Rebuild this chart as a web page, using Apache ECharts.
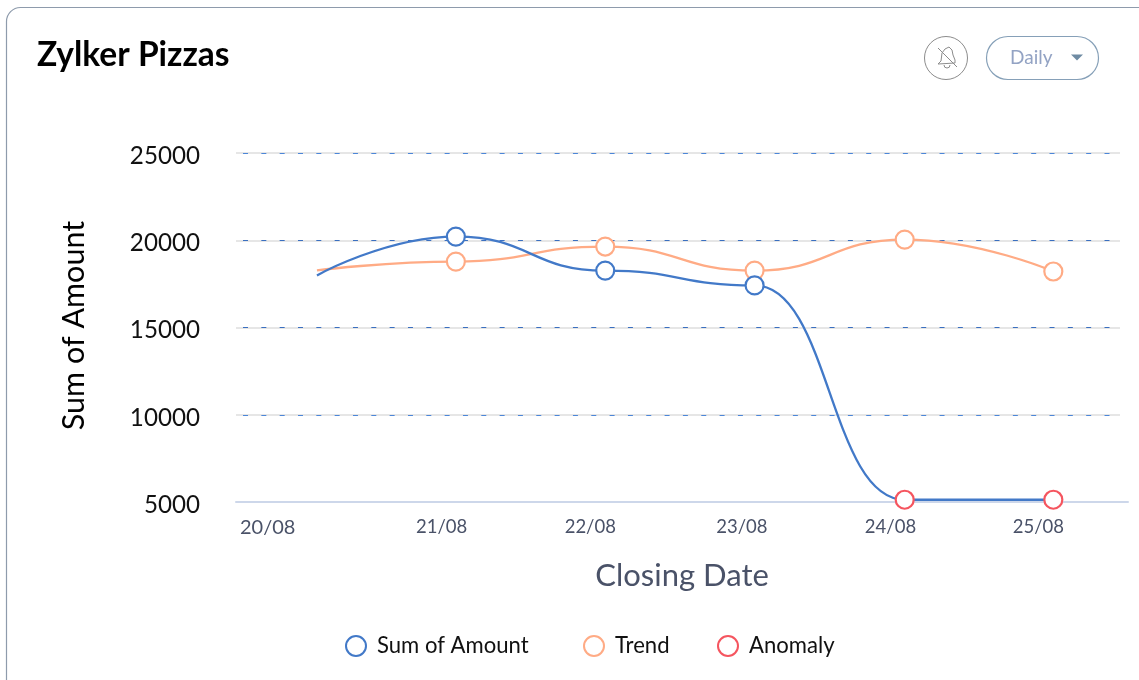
<!DOCTYPE html>
<html>
<head>
<meta charset="utf-8">
<style>html,body{margin:0;padding:0;background:#fff}#c{width:1139px;height:680px}</style>
<script src="https://cdn.jsdelivr.net/npm/echarts@6/dist/echarts.min.js"></script>
</head>
<body>
<div id="c"></div>
<script>
const titleText = 'Zylker Pizzas';
const intervalLabel = 'Daily';
const xAxisName = 'Closing Date';
const yAxisName = 'Sum of Amount';
const dayNumbers = [20.07, 21, 22, 23, 24.005, 25];
const sumOfAmount = [17980, 20210, 18260, 17410, 5130, 5130];
const trend = [18270, 18780, 19640, 18260, 20040, 18210];
const anomalyDays = [24.005, 25];
const anomalyValues = [5130, 5130];
const tickLabels = ['20/08', '21/08', '22/08', '23/08', '24/08', '25/08'];
const tickLabelDays = [19.74, 20.905, 21.9, 22.915, 23.91, 24.9];

const BLUE = '#4279C8', ORANGE = '#FFAB85', RED = '#F5555F', FONT = 'Lato, sans-serif';

function pairs(xs, ys) { return xs.map((x, i) => [x, ys[i]]); }
function pointSymbols(xs, ys, hidden) {
  return xs.map((x, i) => ({
    value: [x, ys[i]],
    symbol: (i === 0 || hidden.includes(x)) ? 'none' : 'circle'
  }));
}
function legendFor(name, color, left) {
  return {
    left, bottom: 23, padding: 0, itemWidth: 20, itemHeight: 20, icon: 'circle',
    textStyle: { fontFamily: FONT, fontSize: 22.1, color: '#111', padding: [0, 0, 0, 6] },
    data: [{ name, itemStyle: { color: '#fff', borderColor: color, borderWidth: 2 } }]
  };
}

const xMin = 19.528, xMax = 25.5;
const bell = { stroke: '#8C8C8C', lineWidth: 1, fill: 'none' };

const chart = echarts.init(document.getElementById('c'), null, { renderer: 'canvas' });
chart.setOption({
  animation: false,
  backgroundColor: '#fff',
  title: {
    text: titleText, left: 32, top: 33,
    textStyle: { fontFamily: FONT, fontSize: 33.5, fontWeight: 'bold', color: '#000' }
  },
  legend: [
    legendFor('Sum of Amount', BLUE, 345),
    legendFor('Trend', ORANGE, 583),
    legendFor('Anomaly', RED, 717)
  ],
  grid: [
    { left: 236, right: 11, top: 153, height: 349 },
    { left: 236, right: 19, top: 153, height: 349 },
    { left: 236, right: 19, top: 156, height: 349 }
  ],
  xAxis: [
    {
      type: 'value', gridIndex: 0, min: xMin, max: xMax,
      name: xAxisName, nameLocation: 'middle', nameGap: 58,
      nameTextStyle: { fontFamily: FONT, fontSize: 31, color: '#4A5268' },
      splitLine: { show: false },
      axisTick: { show: false },
      axisLine: { show: true, onZero: false, lineStyle: { color: '#CDD7EA', width: 2 } },
      axisLabel: {
        customValues: tickLabelDays,
        formatter: (v) => {
          const i = tickLabelDays.indexOf(v);
          return i === 0 ? '{first|' + tickLabels[i] + '}' : tickLabels[i];
        },
        rich: { first: { fontFamily: FONT, fontSize: 20, color: '#4A5268', padding: [0, 0, 2, 0] } },
        fontFamily: FONT, fontSize: 18.5, color: '#4A5268', margin: 16
      }
    },
    { type: 'value', gridIndex: 1, min: 0, max: 1, show: false },
    { type: 'value', gridIndex: 2, min: 0, max: 1, show: false }
  ],
  yAxis: [
    {
      type: 'value', gridIndex: 0, min: 5000, max: 25000, interval: 5000,
      name: yAxisName, nameLocation: 'middle', nameGap: 146, nameRotate: 90,
      nameTextStyle: { fontFamily: FONT, fontSize: 30.5, color: '#000', padding: [0, 0, 0, 4] },
      axisLine: { show: false }, axisTick: { show: false }, axisLabel: { show: false },
      splitLine: { show: false }
    },
    {
      type: 'value', gridIndex: 1, min: 5000, max: 25000, interval: 5000,
      axisLine: { show: false }, axisTick: { show: false }, axisLabel: { show: false },
      splitLine: { show: true, lineStyle: { color: '#E6E6E6', width: 2 } }
    },
    {
      type: 'value', gridIndex: 1, min: 5000, max: 25000, interval: 5000, position: 'left',
      axisLine: { show: false }, axisTick: { show: false }, axisLabel: { show: false },
      splitLine: { show: true, lineStyle: { color: ['#fff', '#4C86D8', '#3A6FC0', '#3A6FC0', '#4C86D8'], width: 1, type: [5, 13.33], dashOffset: 11.33 } }
    },
    {
      type: 'value', gridIndex: 2, min: 5000, max: 25000, interval: 5000,
      axisLine: { show: false }, axisTick: { show: false }, splitLine: { show: false },
      axisLabel: { formatter: (v) => String(v), fontFamily: FONT, fontSize: 24.2, color: '#111', margin: 36 }
    }
  ],
  graphic: [
    { type: 'rect', z: -1, shape: { x: 6.5, y: 7.5, width: 1300, height: 900, r: 14 },
      style: { fill: '#fff', stroke: '#8E9BAC', lineWidth: 1.2 } },
    { type: 'circle', shape: { cx: 946, cy: 58, r: 21.5 }, style: { fill: '#fff', stroke: '#8C8C8C', lineWidth: 1 } },
    { type: 'polyline', shape: { points: [[938, 64], [941, 61], [942, 53], [945, 49], [949, 47], [952, 50], [953, 55], [955, 60], [955, 63], [938, 64]] }, style: bell },
    { type: 'arc', shape: { cx: 947, cy: 65, r: 3, startAngle: 0, endAngle: Math.PI }, style: bell },
    { type: 'line', shape: { x1: 938, y1: 48, x2: 957, y2: 67 }, style: bell },
    { type: 'rect', shape: { x: 986.5, y: 36.5, width: 112, height: 43, r: 21.5 }, style: { fill: '#fff', stroke: '#86A0B8', lineWidth: 1.2 } },
    { type: 'text', x: 1010, y: 48, style: { text: intervalLabel, fontFamily: FONT, fontSize: 19, fill: '#93A3C4' } },
    { type: 'polygon', shape: { points: [[1071, 54.5], [1083, 54.5], [1077, 60.5]] }, style: { fill: '#6F8BA3' } }
  ],
  series: [
    {
      name: 'Sum of Amount', type: 'line', z: 3, xAxisIndex: 0, yAxisIndex: 0, smooth: 0.5, smoothMonotone: 'x',
      data: pointSymbols(dayNumbers, sumOfAmount, anomalyDays),
      symbolSize: 18, showAllSymbol: true,
      lineStyle: { color: BLUE, width: 2.3 },
      itemStyle: { color: '#fff', borderColor: BLUE, borderWidth: 2.2, opacity: 1 }
    },
    {
      name: 'Trend', type: 'line', z: 2, xAxisIndex: 0, yAxisIndex: 0, smooth: 0.5, smoothMonotone: 'x',
      data: pointSymbols(dayNumbers, trend, []),
      symbolSize: 18, showAllSymbol: true,
      lineStyle: { color: ORANGE, width: 2.3 },
      itemStyle: { color: '#fff', borderColor: ORANGE, borderWidth: 2.2, opacity: 1 }
    },
    {
      name: 'Anomaly', type: 'scatter', z: 4, xAxisIndex: 0, yAxisIndex: 0,
      data: pairs(anomalyDays, anomalyValues),
      symbol: 'circle', symbolSize: 18,
      itemStyle: { color: '#fff', borderColor: RED, borderWidth: 2.2, opacity: 1 }
    }
  ]
});
</script>
</body>
</html>
